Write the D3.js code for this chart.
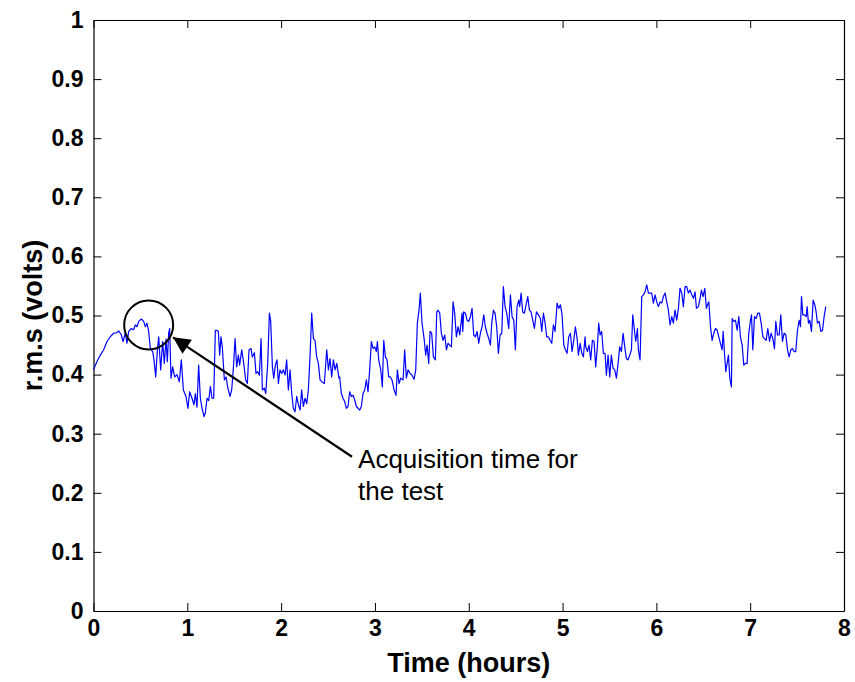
<!DOCTYPE html>
<html><head><meta charset="utf-8">
<script src="https://cdn.jsdelivr.net/npm/d3@7"></script>
<style>body{margin:0;background:#fff}svg{display:block}</style>
</head><body>
<script>
// ---- data ----
const hours = [
0.000,0.037,0.073,0.108,0.144,0.179,0.215,0.251,0.268,0.297,0.314,0.339,0.357,0.375,0.403,0.428,0.446,0.464,0.482,0.510,
0.535,0.553,0.570,0.588,0.606,0.631,0.645,0.663,0.680,0.695,0.716,0.737,0.755,0.773,0.787,0.801,0.812,0.826,0.844,0.865,
0.890,0.915,0.936,0.958,0.986,1.007,1.025,1.050,1.071,1.086,1.103,1.121,1.139,1.157,1.178,1.192,1.210,1.228,1.246,1.263,
1.281,1.299,
1.313,1.331,1.345,1.359,1.373,1.395,1.413,1.430,1.455,1.473,1.491,1.509,1.526,1.544,1.558,1.580,1.601,1.622,1.640,1.658,
1.679,1.693,1.715,1.732,1.750,1.768,1.786,1.800,1.821,1.836,1.857,1.875,1.889,1.907,1.921,1.939,1.956,1.971,1.988,2.006,
2.024,2.042,2.059,2.077,2.095,2.113,2.130,2.148,2.166,2.184,2.202,2.219,2.237,2.255,2.273,2.290,2.308,2.326,2.344,2.361,
2.379,2.397,2.415,2.433,2.461,2.486,2.504,2.521,2.539,2.557,2.575,2.593,2.617,
2.624,2.642,2.660,2.678,2.695,2.713,2.731,2.749,2.767,2.784,2.802,2.820,2.838,2.855,2.873,2.891,2.909,2.926,2.944,2.962,
2.980,2.998,3.015,3.026,3.040,3.062,3.079,3.094,3.111,3.129,3.147,3.165,3.182,3.204,3.225,3.239,3.257,3.275,3.300,3.317,
3.335,3.353,3.374,3.396,3.417,3.435,3.452,3.470,3.484,3.502,3.524,3.541,3.556,3.573,3.588,3.605,3.623,3.644,3.659,3.673,
3.691,3.708,3.726,3.744,3.762,3.779,3.797,3.815,3.833,3.850,3.868,3.886,3.904,3.929,
3.936,3.946,3.964,3.982,4.000,4.018,4.035,4.053,4.071,4.089,4.106,4.124,4.142,4.160,4.177,4.195,4.213,4.231,4.245,4.263,
4.280,4.298,4.316,4.334,4.352,4.369,4.387,4.405,4.426,4.444,4.462,4.480,4.497,4.515,4.533,4.543,4.558,4.575,4.593,4.611,
4.629,4.647,4.664,4.682,4.700,4.721,4.743,4.764,4.778,4.796,4.814,4.831,4.849,4.867,4.885,4.902,4.920,4.942,4.959,4.977,
4.995,5.013,5.030,5.048,5.066,5.084,5.101,5.119,5.137,5.155,5.169,5.187,5.205,5.222,5.240,
5.247,5.265,5.282,5.300,5.318,5.336,5.353,5.371,5.385,5.400,5.417,5.435,5.453,5.467,5.485,5.503,5.520,5.538,5.556,5.574,
5.592,5.609,5.627,5.645,5.663,5.680,5.698,5.716,5.734,5.748,5.766,5.780,5.798,5.808,5.826,5.844,5.862,5.879,5.897,5.915,
5.933,5.950,5.968,5.986,6.004,6.021,6.039,6.057,6.075,6.093,6.110,6.128,6.146,6.164,6.181,6.199,6.217,6.235,6.252,6.270,
6.288,6.306,6.324,6.341,6.359,6.377,6.395,6.412,6.427,6.448,6.466,6.480,6.498,6.516,6.533,6.551,
6.559,6.577,6.594,6.612,6.630,6.648,6.665,6.683,6.701,6.712,6.726,6.740,6.754,6.768,6.783,6.800,6.808,6.825,6.843,6.861,
6.879,6.896,6.914,6.932,6.950,6.967,6.985,7.003,7.014,7.028,7.046,7.063,7.081,7.099,7.117,7.135,7.152,7.170,7.188,7.206,
7.223,7.241,7.259,7.273,7.291,7.309,7.326,7.344,7.362,7.380,7.398,7.415,7.433,7.451,7.469,7.486,7.504,7.522,7.536,7.547,
7.561,7.579,7.597,7.607,7.621,7.636,7.653,7.671,7.689,7.703,7.717,7.735,7.753,7.771,7.788,7.806
];
const rms = [
0.408,0.422,0.433,0.442,0.456,0.464,0.470,0.471,0.474,0.467,0.456,0.470,0.453,0.473,0.478,0.476,0.484,0.481,0.490,0.494,
0.490,0.481,0.487,0.473,0.444,0.439,0.425,0.396,0.440,0.464,0.408,0.456,0.419,0.460,0.422,0.470,0.478,0.394,0.413,0.396,
0.400,0.388,0.425,0.374,0.363,0.343,0.371,0.360,0.349,0.368,0.345,0.416,0.360,0.343,0.329,0.335,0.360,0.356,0.380,0.360,
0.360,0.475,
0.475,0.473,0.433,0.464,0.447,0.391,0.396,0.379,0.363,0.374,0.411,0.461,0.413,0.433,0.416,0.442,0.419,0.391,0.385,0.442,
0.444,0.430,0.437,0.402,0.405,0.399,0.461,0.374,0.377,0.368,0.419,0.504,0.490,0.413,0.394,0.416,0.425,0.385,0.408,0.402,
0.408,0.399,0.425,0.374,0.408,0.368,0.343,0.337,0.363,0.349,0.340,0.374,0.346,0.360,0.351,0.374,0.430,0.504,0.461,0.458,
0.430,0.419,0.391,0.388,0.385,0.442,0.408,0.427,0.396,0.425,0.408,0.419,0.394,
0.396,0.368,0.360,0.354,0.343,0.346,0.371,0.363,0.365,0.357,0.346,0.343,0.340,0.346,0.368,0.374,0.391,0.371,0.408,0.456,
0.444,0.447,0.439,0.456,0.425,0.408,0.379,0.458,0.430,0.425,0.396,0.396,0.391,0.374,0.365,0.408,0.385,0.394,0.391,0.442,
0.394,0.408,0.402,0.399,0.392,0.408,0.487,0.509,0.538,0.487,0.461,0.433,0.450,0.419,0.473,0.470,0.430,0.425,0.506,0.509,
0.504,0.470,0.458,0.467,0.442,0.453,0.450,0.447,0.523,0.504,0.464,0.481,0.467,0.504,
0.473,0.506,0.504,0.492,0.490,0.498,0.512,0.467,0.464,0.473,0.453,0.470,0.481,0.501,0.481,0.470,0.461,0.450,0.487,0.509,
0.504,0.481,0.436,0.467,0.470,0.549,0.515,0.504,0.478,0.535,0.498,0.492,0.442,0.515,0.526,0.515,0.538,0.506,0.504,0.518,
0.532,0.509,0.506,0.492,0.478,0.506,0.501,0.495,0.473,0.504,0.487,0.464,0.464,0.458,0.453,0.484,0.473,0.521,0.512,0.518,
0.501,0.450,0.442,0.436,0.464,0.470,0.439,0.458,0.481,0.461,0.433,0.453,0.436,0.430,0.464,
0.447,0.439,0.450,0.425,0.458,0.456,0.413,0.447,0.487,0.467,0.473,0.436,0.436,0.399,0.433,0.396,0.433,0.411,0.408,0.394,
0.419,0.447,0.439,0.470,0.447,0.427,0.425,0.433,0.442,0.501,0.475,0.456,0.478,0.442,0.425,0.532,0.535,0.540,0.552,0.538,
0.538,0.538,0.521,0.535,0.523,0.515,0.523,0.521,0.532,0.538,0.523,0.509,0.484,0.498,0.487,0.509,0.492,0.512,0.546,0.538,
0.515,0.549,0.549,0.538,0.543,0.535,0.529,0.540,0.512,0.515,0.529,0.543,0.532,0.546,0.512,0.521,
0.523,0.481,0.458,0.470,0.478,0.475,0.464,0.453,0.442,0.473,0.436,0.405,0.419,0.433,0.394,0.379,0.495,0.490,0.492,0.475,
0.498,0.464,0.450,0.416,0.419,0.419,0.470,0.492,0.501,0.442,0.498,0.495,0.504,0.504,0.487,0.464,0.461,0.458,0.478,0.456,
0.470,0.461,0.444,0.490,0.467,0.467,0.501,0.456,0.470,0.467,0.442,0.430,0.442,0.444,0.439,0.439,0.475,0.492,0.481,0.532,
0.501,0.501,0.498,0.515,0.487,0.492,0.473,0.526,0.518,0.506,0.487,0.490,0.473,0.475,0.498,0.515
];
const xTicks = [0,1,2,3,4,5,6,7,8];
const yTicks = [0,0.1,0.2,0.3,0.4,0.5,0.6,0.7,0.8,0.9,1];
const yTickLabels = ["0","0.1","0.2","0.3","0.4","0.5","0.6","0.7","0.8","0.9","1"];
const xLabel = "Time (hours)";
const yLabel = "r.m.s (volts)";
const noteLines = ["Acquisition time for","the test"];
const circleAt = [0.588, 0.484];   // hours, volts
const arrowTip = [0.848, 0.463];
const arrowTail = [2.756, 0.261];
const noteAt = [2.82, 0.242];

// ---- layout ----
const W = 855, H = 682;
const m = {left: 93.5, right: 11, top: 20, bottom: 71};
const FONT = "Arial, 'Liberation Sans', sans-serif";
const svg = d3.select("body").append("svg").attr("width", W).attr("height", H)
  .style("font-family", FONT);
svg.append("rect").attr("width", W).attr("height", H).attr("fill", "#fff");

const x = d3.scaleLinear().domain([0, 8]).range([m.left, W - m.right]);
const y = d3.scaleLinear().domain([0, 1]).range([H - m.bottom, m.top]);

const tickLen = 8;
function styleAxis(g, labels) {
  g.select(".domain").attr("stroke", "#000").attr("stroke-width", 1.2);
  g.selectAll(".tick line").attr("stroke", "#000").attr("stroke-width", 1);
  g.selectAll(".tick text").attr("fill", "#000").attr("font-size", 23).attr("font-weight", "bold")
    .attr("font-family", FONT);
  if (!labels) g.selectAll(".tick text").remove();
}

svg.append("g").attr("transform", `translate(0,${H - m.bottom})`)
  .call(d3.axisBottom(x).tickValues(xTicks).tickFormat(d3.format("d")).tickSizeInner(-tickLen).tickSizeOuter(0).tickPadding(9))
  .call(g => styleAxis(g, true));
svg.append("g").attr("transform", `translate(0,${m.top})`)
  .call(d3.axisTop(x).tickValues(xTicks).tickSizeInner(-tickLen).tickSizeOuter(0))
  .call(g => styleAxis(g, false));
svg.append("g").attr("transform", `translate(${m.left},0)`)
  .call(d3.axisLeft(y).tickValues(yTicks).tickFormat((d, i) => yTickLabels[i]).tickSizeInner(-tickLen).tickSizeOuter(0).tickPadding(10))
  .call(g => styleAxis(g, true));
svg.append("g").attr("transform", `translate(${W - m.right},0)`)
  .call(d3.axisRight(y).tickValues(yTicks).tickSizeInner(-tickLen).tickSizeOuter(0))
  .call(g => styleAxis(g, false));

// data line
const pts = hours.map((h, i) => [h, rms[i]]);
svg.append("path").datum(pts)
  .attr("fill", "none").attr("stroke", "#0000ff").attr("stroke-width", 1.2).attr("stroke-linejoin", "round")
  .attr("d", d3.line().x(d => x(d[0])).y(d => y(d[1])));

// annotation circle
svg.append("circle").attr("cx", x(circleAt[0])).attr("cy", y(circleAt[1])).attr("r", 24.5)
  .attr("fill", "none").attr("stroke", "#000").attr("stroke-width", 2);

// arrow
svg.append("defs").append("marker").attr("id", "ah")
  .attr("viewBox", "0 0 10 10").attr("refX", 10).attr("refY", 5)
  .attr("markerUnits", "userSpaceOnUse").attr("markerWidth", 22).attr("markerHeight", 17)
  .attr("orient", "auto")
  .append("path").attr("d", "M0,0 L10,5 L0,10 Z").attr("fill", "#000");
svg.append("line")
  .attr("x1", x(arrowTail[0])).attr("y1", y(arrowTail[1]))
  .attr("x2", x(arrowTip[0])).attr("y2", y(arrowTip[1]))
  .attr("stroke", "#000").attr("stroke-width", 2.2).attr("marker-end", "url(#ah)");

// note text
const note = svg.append("text").attr("x", x(noteAt[0])).attr("y", y(noteAt[1]))
  .attr("font-size", 26).attr("fill", "#000");
noteLines.forEach((t, i) => note.append("tspan").attr("x", x(noteAt[0])).attr("dy", i ? 32 : 0).text(t));

// axis titles
svg.append("text").attr("x", (m.left + W - m.right) / 2).attr("y", H - 10)
  .attr("text-anchor", "middle").attr("font-size", 27).attr("font-weight", "bold").text(xLabel);
svg.append("text").attr("transform", `translate(42,${(m.top + H - m.bottom) / 2}) rotate(-90)`)
  .attr("text-anchor", "middle").attr("font-size", 27).attr("font-weight", "bold").text(yLabel);
</script>
</body></html>
